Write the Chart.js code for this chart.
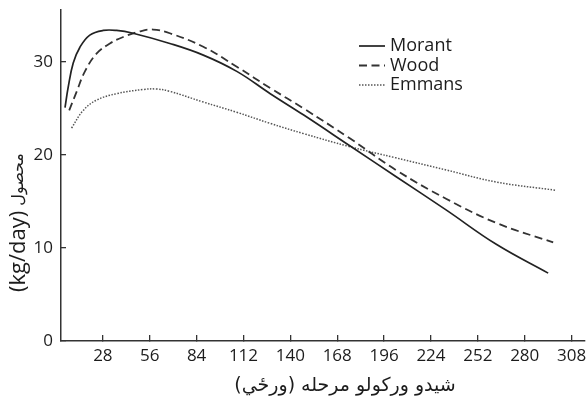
<!DOCTYPE html>
<html lang="en">
<head>
  <meta charset="UTF-8">
  <title>Lactation curves</title>
  <script src="https://cdn.jsdelivr.net/npm/chart.js"></script>
  <style>
    body {
      margin: 0;
      background: #ffffff;
    }

    .wrap {
      width: 588px;
      height: 400px;
    }
  </style>
</head>
<body>
  <div class="wrap">
    <canvas id="lactChart"></canvas>
  </div>

  <script>
    // values
    const xTicks = [28, 56, 84, 112, 140, 168, 196, 224, 252, 280, 308];
    const yTicks = [0, 10, 20, 30];

    const morantDays = [5.4, 7.3, 10.3, 14.3, 20.2, 28.2, 36.2, 46, 68, 88, 108, 128, 148, 175.5, 203, 233, 263, 294];
    const morantVals = [25.1, 27.3, 29.9, 31.6, 32.9, 33.4, 33.4, 33.1, 32.0, 30.75, 29.0, 26.6, 24.3, 21.0, 17.7, 14.1, 10.4, 7.3];

    const woodDays = [7.9, 12.3, 17.3, 24.2, 32.2, 40.2, 50.1, 58, 68, 88, 108, 128, 148, 175.5, 203, 233, 263, 297];
    const woodVals = [24.8, 26.8, 29.0, 30.9, 32.0, 32.7, 33.3, 33.5, 33.1, 31.65, 29.5, 27.2, 25.0, 21.8, 18.4, 15.3, 12.7, 10.6];

    const emmansDays = [9.3, 16.3, 24.2, 36.2, 52.1, 60, 68, 88, 108, 128, 148, 175.5, 203, 233, 263, 299];
    const emmansVals = [22.9, 24.8, 25.9, 26.6, 27.05, 27.1, 26.85, 25.7, 24.6, 23.4, 22.3, 20.9, 19.7, 18.4, 17.1, 16.2];

    const xTitle = 'شيدو ورکولو مرحله (ورځي)';
    const yTitleUnit = '(kg/day)';
    const yTitleWord = 'محصول';

    const textColor = '#1c1c1c';
    const tickFont = { family: "'Open Sans', 'DejaVu Sans', sans-serif", size: 17 };

    function toPoints(days, vals) {
      return days.map((d, i) => ({ x: d, y: vals[i] }));
    }

    // legend + axis titles drawn by hand so they sit where the reference has them
    const extrasPlugin = {
      id: 'extras',
      afterDraw(chart) {
        const ctx = chart.ctx;
        ctx.save();
        ctx.fillStyle = textColor;
        ctx.textBaseline = 'middle';

        // legend
        ctx.font = "18px 'Open Sans', sans-serif";
        chart.data.datasets.forEach((ds, i) => {
          const y = 46 + i * 19.5;
          ctx.beginPath();
          ctx.strokeStyle = ds.borderColor;
          ctx.lineWidth = ds.borderWidth;
          ctx.setLineDash(ds.borderDash || []);
          ctx.moveTo(359, y);
          ctx.lineTo(385, y);
          ctx.stroke();
          ctx.setLineDash([]);
          ctx.textAlign = 'left';
          ctx.fillText(ds.label, 390, y);
        });

        // x title
        ctx.font = "19px 'DejaVu Sans', sans-serif";
        ctx.textAlign = 'center';
        ctx.direction = 'rtl';
        ctx.fillText(xTitle, 345, 386);

        // y title, read bottom to top
        ctx.direction = 'ltr';
        ctx.textAlign = 'left';
        ctx.translate(19, 292);
        ctx.rotate(-Math.PI / 2);
        ctx.font = "22px 'Open Sans', sans-serif";
        ctx.fillText(yTitleUnit, 0, 0);
        const w = ctx.measureText(yTitleUnit).width;
        ctx.font = "16px 'DejaVu Sans', sans-serif";
        ctx.fillText(yTitleWord, w + 5, 0);
        ctx.restore();
      }
    };

    const ctx = document.getElementById('lactChart').getContext('2d');
    const lactChart = new Chart(ctx, {
      type: 'line',
      data: {
        datasets: [{
          label: 'Morant',
          data: toPoints(morantDays, morantVals),
          borderColor: '#222222',
          borderWidth: 1.7,
          pointRadius: 0,
          tension: 0.4,
          fill: false
        }, {
          label: 'Wood',
          data: toPoints(woodDays, woodVals),
          borderColor: '#333333',
          borderWidth: 1.8,
          borderDash: [8, 4.5],
          pointRadius: 0,
          tension: 0.4,
          fill: false
        }, {
          label: 'Emmans',
          data: toPoints(emmansDays, emmansVals),
          borderColor: '#555555',
          borderWidth: 1.5,
          borderDash: [1.5, 1.5],
          pointRadius: 0,
          tension: 0.4,
          fill: false
        }]
      },
      options: {
        responsive: true,
        maintainAspectRatio: false,
        animation: false,
        layout: {
          padding: { top: 10, right: 3, left: 0, bottom: 0 }
        },
        plugins: {
          legend: { display: false },
          tooltip: { enabled: false }
        },
        scales: {
          x: {
            type: 'linear',
            min: 3,
            max: 316,
            afterBuildTicks: s => { s.ticks = xTicks.map(v => ({ value: v })); },
            afterFit: s => { s.height = 59; s.paddingLeft = 0; s.paddingRight = 0; },
            grid: { drawOnChartArea: false, color: '#333333', tickLength: -6, lineWidth: 1.3 },
            border: { color: '#333333', width: 1.5 },
            ticks: { color: textColor, font: tickFont, padding: 11, maxRotation: 0, autoSkip: false }
          },
          y: {
            min: 0,
            max: 35.6,
            afterBuildTicks: s => { s.ticks = yTicks.map(v => ({ value: v })); },
            afterFit: s => { s.width = 61; s.paddingTop = 0; s.paddingBottom = 0; },
            grid: { drawOnChartArea: false, color: '#333333', tickLength: -5, lineWidth: 1.3 },
            border: { color: '#333333', width: 1.5 },
            ticks: { color: textColor, font: tickFont, padding: 13 }
          }
        }
      },
      plugins: [extrasPlugin]
    });
  </script>
</body>
</html>
